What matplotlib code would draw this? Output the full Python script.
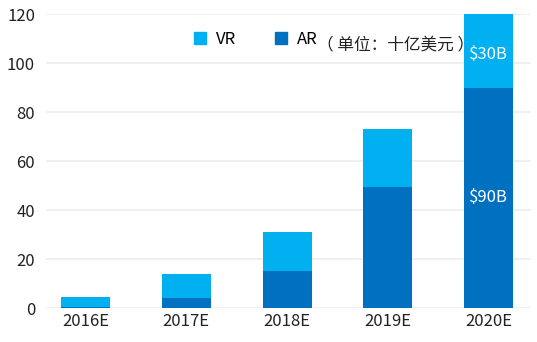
import matplotlib.pyplot as plt
from matplotlib.patches import Patch

plt.rcParams['font.family'] = ['Noto Sans CJK SC', 'DejaVu Sans']

years = ['2016E', '2017E', '2018E', '2019E', '2020E']
ar = [0.5, 4, 15, 49.5, 90]
vr = [4, 10, 16, 23.5, 30]
ar_color = '#0070C0'
vr_color = '#00B0F0'

fig = plt.figure(figsize=(5.37, 3.42), dpi=100)
ax = fig.add_axes([0.086, 0.099, 0.903, 0.86])

x = range(len(years))
ax.bar(x, ar, width=0.485, color=ar_color, zorder=2)
ax.bar(x, vr, width=0.485, bottom=ar, color=vr_color, zorder=2)

# value labels on the last bar
ax.text(4, ar[4] + vr[4] / 2 - 1.5, '$%dB' % vr[4], color='white', ha='center', va='center', fontsize=12)
ax.text(4, ar[4] / 2, '$%dB' % ar[4], color='white', ha='center', va='center', fontsize=12)

ax.set_xlim(-0.39, 4.42)
ax.set_ylim(0, 120)
ax.set_yticks(range(0, 121, 20))
ax.set_xticks(list(x))
ax.set_xticklabels(years)
ax.tick_params(length=0, labelsize=12, colors='#222222')
ax.tick_params(axis='y', pad=8)
ax.yaxis.grid(True, color='#EEEEEE', linewidth=1.2, zorder=0)
for s in ax.spines.values():
    s.set_visible(False)

handles = [Patch(color=vr_color, label='VR'), Patch(color=ar_color, label='AR')]
ax.legend(handles=handles, ncol=2, frameon=False, fontsize=12, borderpad=0,
          handlelength=0.75, handleheight=0.75, handletextpad=0.6, columnspacing=2.3,
          loc='center left', bbox_to_anchor=(0.287, 0.915))
ax.text(0.558, 0.893, '（ 单位：十亿美元 ）', transform=ax.transAxes, fontsize=12,
        ha='left', va='center', color='#222222')

fig.savefig('out.png')
